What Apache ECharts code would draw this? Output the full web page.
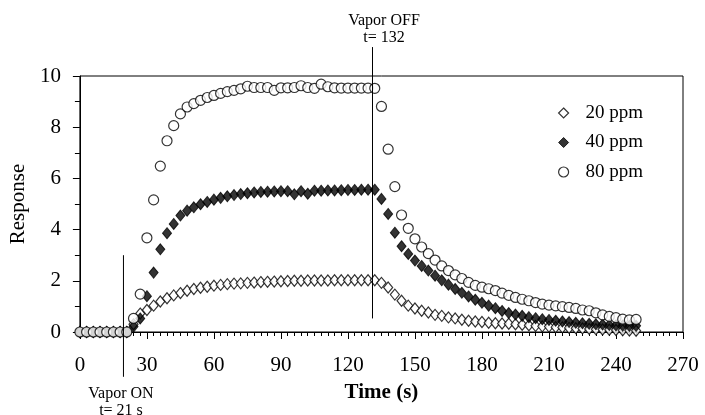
<!DOCTYPE html>
<html>
<head>
<meta charset="utf-8">
<script src="https://cdn.jsdelivr.net/npm/echarts@6/dist/echarts.min.js"></script>
<style>html,body{margin:0;padding:0;background:#fff}#c{width:705px;height:415px}</style>
</head>
<body>
<div id="c"></div>
<script>
const times = [0,3,6,9,12,15,18,21,24,27,30,33,36,39,42,45,48,51,54,57,60,63,66,69,72,75,78,81,84,87,90,93,96,99,102,105,108,111,114,117,120,123,126,129,132,135,138,141,144,147,150,153,156,159,162,165,168,171,174,177,180,183,186,189,192,195,198,201,204,207,210,213,216,219,222,225,228,231,234,237,240,243,246,249];

const ppm20 = [0,0,0,0,0,0,0,0,0.30,0.72,0.86,1.03,1.19,1.32,1.43,1.52,1.61,1.68,1.73,1.77,1.81,1.84,1.87,1.89,1.90,1.92,1.93,1.95,1.96,1.97,1.98,1.99,2.00,2.00,2.01,2.01,2.01,2.01,2.02,2.02,2.02,2.02,2.02,2.02,2.02,1.92,1.74,1.46,1.22,1.03,0.92,0.83,0.76,0.67,0.63,0.57,0.53,0.48,0.44,0.41,0.39,0.36,0.34,0.33,0.32,0.30,0.28,0.26,0.24,0.22,0.21,0.19,0.18,0.16,0.15,0.14,0.12,0.11,0.10,0.09,0.08,0.07,0.06,0.05];

const ppm40 = [0,0,0,0,0,0,0,0,0.21,0.53,1.40,2.32,3.23,3.86,4.22,4.55,4.74,4.87,4.99,5.08,5.17,5.24,5.30,5.35,5.39,5.42,5.45,5.47,5.48,5.49,5.50,5.50,5.38,5.50,5.40,5.52,5.52,5.53,5.53,5.54,5.55,5.55,5.56,5.56,5.56,5.20,4.61,3.88,3.35,3.05,2.79,2.58,2.40,2.20,2.02,1.85,1.68,1.53,1.39,1.26,1.14,1.03,0.93,0.82,0.74,0.68,0.63,0.58,0.54,0.50,0.47,0.44,0.41,0.39,0.36,0.34,0.32,0.30,0.29,0.27,0.26,0.25,0.24,0.24];

const ppm80 = [0,0,0,0,0,0,0,0,0.53,1.48,3.68,5.16,6.48,7.47,8.06,8.52,8.79,8.92,9.05,9.16,9.24,9.32,9.39,9.44,9.50,9.60,9.55,9.55,9.55,9.44,9.54,9.54,9.55,9.62,9.55,9.52,9.68,9.58,9.54,9.53,9.53,9.53,9.53,9.53,9.52,8.81,7.14,5.68,4.57,4.05,3.64,3.32,3.06,2.81,2.58,2.40,2.23,2.09,1.94,1.82,1.75,1.69,1.62,1.52,1.43,1.35,1.28,1.22,1.15,1.09,1.05,1.02,0.99,0.96,0.92,0.86,0.83,0.75,0.67,0.61,0.56,0.50,0.47,0.49];

const seriesNames = ['20 ppm','40 ppm','80 ppm'];
const xTicks = {min:0, max:270, interval:30};
const yTicks = {min:0, max:10, interval:2};
const vaporOnLine = [[19.5,3.0],[19.5,-1.75]];
const vaporOffLine = [[131,0.53],[131,11.13]];
const vaporOnText = 'Vapor ON\nt= 21 s';
const vaporOffText = 'Vapor OFF\nt= 132';

const pairs = vals => times.map((t,i)=>[t, vals[i]]);
const FONT = '"Liberation Serif","Times New Roman",serif';

const hollow = {color:'#fff', borderColor:'#000', borderWidth:1.2};
const filled = {color:'#000', borderColor:'#000', borderWidth:1};

const chart = echarts.init(document.getElementById('c'), null, {renderer:'canvas'});
chart.setOption({
  animation:false,
  backgroundColor:'#fff',
  textStyle:{fontFamily:FONT, color:'#000'},
  grid:{left:79, top:76, right:22, bottom:83, show:true, borderColor:'#000', borderWidth:1, backgroundColor:'transparent'},
  xAxis:{
    type:'value', min:xTicks.min, max:xTicks.max, interval:xTicks.interval,
    name:'Time (s)', nameLocation:'middle', nameGap:50,
    nameTextStyle:{fontFamily:FONT, fontSize:21, fontWeight:'bold', color:'#000'},
    axisLine:{show:true, onZero:false, lineStyle:{color:'#000', width:1}},
    axisTick:{show:true, length:7, lineStyle:{color:'#000'}},
    minorTick:{show:true, splitNumber:10, length:4, lineStyle:{color:'#000'}},
    axisLabel:{fontFamily:FONT, fontSize:21, color:'#000', margin:23},
    splitLine:{show:false}
  },
  yAxis:{
    type:'value', min:yTicks.min, max:yTicks.max, interval:yTicks.interval,
    name:'Response', nameLocation:'middle', nameGap:38, nameRotate:90,
    nameTextStyle:{fontFamily:FONT, fontSize:21, color:'#000'},
    axisLine:{show:true, onZero:false, lineStyle:{color:'#000', width:1}},
    axisTick:{show:true, length:7, lineStyle:{color:'#000'}},
    minorTick:{show:true, splitNumber:2, length:5, lineStyle:{color:'#000'}},
    axisLabel:{fontFamily:FONT, fontSize:21, color:'#000', margin:19},
    splitLine:{show:false}
  },
  legend:{
    data:[
      {name:seriesNames[0], icon:'diamond', itemStyle:hollow},
      {name:seriesNames[1], icon:'diamond', itemStyle:filled},
      {name:seriesNames[2], icon:'circle', itemStyle:hollow}
    ],
    orient:'vertical', left:553, top:98.5,
    itemWidth:10, itemHeight:10, itemGap:10.5, symbolKeepAspect:true,
    textStyle:{fontFamily:FONT, fontSize:19, lineHeight:19, color:'#000', padding:[0,0,0,12]}
  },
  graphic:[
    {type:'text', style:{text:vaporOffText, x:384, y:12, align:'center', verticalAlign:'top', font:'16px '+FONT, lineHeight:17, fill:'#000'}},
    {type:'text', style:{text:vaporOnText, x:121, y:385, align:'center', verticalAlign:'top', font:'16px '+FONT, lineHeight:17, fill:'#000'}}
  ],
  series:[
    {name:seriesNames[0], type:'scatter', data:pairs(ppm20), symbol:'diamond', symbolSize:[9,11], symbolKeepAspect:false,
     itemStyle:hollow, z:2},
    {name:seriesNames[1], type:'scatter', data:pairs(ppm40), symbol:'diamond', symbolSize:[9,11], symbolKeepAspect:false,
     itemStyle:filled, z:3},
    {name:seriesNames[2], type:'scatter', data:pairs(ppm80), symbol:'circle', symbolSize:10,
     itemStyle:hollow, z:4},
    {name:'vaporOn', type:'line', data:vaporOnLine, symbol:'none', clip:false, silent:true,
     lineStyle:{color:'#000', width:1}, z:5},
    {name:'vaporOff', type:'line', data:vaporOffLine, symbol:'none', clip:false, silent:true,
     lineStyle:{color:'#000', width:1}, z:5}
  ]
});
</script>
</body>
</html>
